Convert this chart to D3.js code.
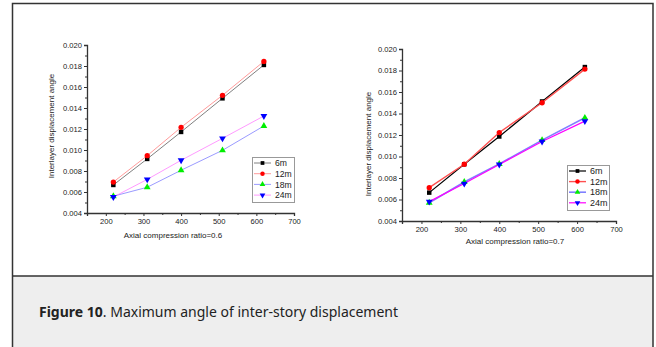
<!DOCTYPE html>
<html>
<head>
<meta charset="utf-8">
<script src="https://cdn.jsdelivr.net/npm/d3@7"></script>
<style>
  body { margin: 0; background: #fff; }
  svg { display: block; }
</style>
</head>
<body>
<div id="fig"></div>
<script>
// x positions shared by every series
var xs = [220, 310, 400, 510, 620]
var xTicks = [200, 300, 400, 500, 600, 700]
var yTicks = [0.004, 0.006, 0.008, 0.010, 0.012, 0.014, 0.016, 0.018, 0.020]
var seriesNames = ['6m', '12m', '18m', '24m']

// axial compression ratio 0.6
var r06_6m = [0.00667, 0.00915, 0.01172, 0.01492, 0.01810]
var r06_12m = [0.00695, 0.00946, 0.01216, 0.01521, 0.01844]
var r06_18m = [0.00560, 0.00645, 0.00807, 0.00997, 0.01229]
var r06_24m = [0.00552, 0.00720, 0.00902, 0.01111, 0.01324]

// axial compression ratio 0.7
var r07_6m = [0.00664, 0.00928, 0.01186, 0.01512, 0.01832]
var r07_12m = [0.00710, 0.00928, 0.01223, 0.01500, 0.01813]
var r07_18m = [0.00570, 0.00763, 0.00931, 0.01152, 0.01360]
var r07_24m = [0.00580, 0.00748, 0.00925, 0.01139, 0.01329]

var W = 656, H = 347

var svg = d3.select('#fig').append('svg')
  .attr('width', W)
  .attr('height', H)

// outer frame + caption band
svg.append('rect')
  .attr('x', 12.5).attr('y', 276)
  .attr('width', 640.5).attr('height', 80)
  .attr('fill', '#eeeeee')
svg.append('path')
  .attr('d', 'M12.5,350V3.5H653V350M12.5,276H653')
  .attr('fill', 'none')
  .attr('stroke', '#333')
  .attr('stroke-width', 1.5)

var cap = svg.append('text')
  .attr('x', 39).attr('y', 317)
  .attr('font-family', '"Noto Sans", "Open Sans", sans-serif')
  .attr('font-size', 14)
  .attr('fill', '#222')
cap.append('tspan').attr('font-weight', 'bold').text('Figure 10')
cap.append('tspan').text('. Maximum angle of inter-story displacement')

// series looks, one per chart
var looksA = [
  { line: '#606060', mark: '#000', sym: d3.symbolSquare, rot: 0, lw: 0.8 },
  { line: '#ff8080', mark: '#ff0000', sym: d3.symbolCircle, rot: 0, lw: 0.8 },
  { line: '#8080ff', mark: '#00ee00', sym: d3.symbolTriangle, rot: 0, lw: 0.8 },
  { line: '#ff80ff', mark: '#0000ff', sym: d3.symbolTriangle, rot: 180, lw: 0.8 }
]
var looksB = [
  { line: '#000', mark: '#000', sym: d3.symbolSquare, rot: 0, lw: 1.2 },
  { line: '#ff5050', mark: '#ff0000', sym: d3.symbolCircle, rot: 0, lw: 1.4 },
  { line: '#8080ff', mark: '#00ee00', sym: d3.symbolTriangle, rot: 0, lw: 1.6 },
  { line: '#ff00ff', mark: '#0000ff', sym: d3.symbolTriangle, rot: 180, lw: 1.2 }
]

drawChart({
  data: [r06_6m, r06_12m, r06_18m, r06_24m],
  looks: looksA,
  xr: [87, 294], yr: [213, 45],
  xLabel: 'Axial compression ratio=0.6', xlx: 173, xly: 238,
  ylx: 54, yly: 126,
  leg: { x: 252, y: 157, w: 42, h: 45, row: 10.7, fs: 8.6 }
})

drawChart({
  data: [r07_6m, r07_12m, r07_18m, r07_24m],
  looks: looksB,
  xr: [402, 616], yr: [221, 49],
  xLabel: 'Axial compression ratio=0.7', xlx: 515, xly: 243.5,
  ylx: 371, yly: 144,
  leg: { x: 567, y: 165, w: 42, h: 45, row: 10.6, fs: 9 }
})

function drawChart(c) {
  var x = d3.scaleLinear().domain([150, 700]).range(c.xr)
  var y = d3.scaleLinear().domain([0.004, 0.020]).range(c.yr)
  var g = svg.append('g')
  var font = '"Liberation Sans", Arial, sans-serif'

  var xMinor = xTicks.slice(0, -1).map(function (v) { return v + 50 })
  xMinor.unshift(150)
  var yMinor = yTicks.slice(0, -1).map(function (v) { return v + 0.001 })

  var xa = g.append('g').attr('transform', 'translate(0,' + c.yr[0] + ')')
    .call(d3.axisBottom(x).tickValues(xTicks).tickSize(3).tickPadding(3).tickFormat(d3.format('d')))
  g.append('g').attr('transform', 'translate(0,' + c.yr[0] + ')')
    .call(d3.axisBottom(x).tickValues(xMinor).tickSize(2).tickFormat(''))
    .select('.domain').remove()

  var ya = g.append('g').attr('transform', 'translate(' + c.xr[0] + ',0)')
    .call(d3.axisLeft(y).tickValues(yTicks).tickSize(3).tickPadding(2).tickFormat(d3.format('.3f')))
  g.append('g').attr('transform', 'translate(' + c.xr[0] + ',0)')
    .call(d3.axisLeft(y).tickValues(yMinor).tickSize(2).tickFormat(''))
    .select('.domain').remove()

  g.selectAll('.domain').attr('stroke', '#333').attr('stroke-width', 1.3)
  g.selectAll('.tick line').attr('stroke', '#333')
  g.selectAll('.tick text').attr('font-family', font).attr('font-size', 7.6).attr('fill', '#222')

  g.append('text')
    .attr('x', c.xlx).attr('y', c.xly)
    .attr('text-anchor', 'middle')
    .attr('font-family', font).attr('font-size', 8)
    .attr('fill', '#222')
    .text(c.xLabel)
  g.append('text')
    .attr('transform', 'translate(' + c.ylx + ',' + c.yly + ') rotate(-90)')
    .attr('text-anchor', 'middle')
    .attr('font-family', font).attr('font-size', 8)
    .attr('fill', '#222')
    .text('Interlayer displacement angle')

  var line = d3.line()
    .x(function (d, i) { return x(xs[i]) })
    .y(function (d) { return y(d) })

  c.data.forEach(function (vals, k) {
    var lk = c.looks[k]
    g.append('path')
      .datum(vals)
      .attr('d', line)
      .attr('fill', 'none')
      .attr('stroke', lk.line)
      .attr('stroke-width', lk.lw)
    g.selectAll('.m' + k)
      .data(vals)
      .enter().append('path')
      .attr('class', 'm' + k)
      .attr('d', d3.symbol().type(lk.sym).size(lk.sym === d3.symbolCircle ? 22 : 20))
      .attr('transform', function (d, i) {
        return 'translate(' + x(xs[i]) + ',' + y(d) + ') rotate(' + lk.rot + ')'
      })
      .attr('fill', lk.mark)
  })

  // legend
  var L = c.leg
  var lg = g.append('g')
  lg.append('rect')
    .attr('x', L.x + 0.5).attr('y', L.y + 0.5)
    .attr('width', L.w).attr('height', L.h)
    .attr('fill', '#fff')
    .attr('stroke', '#999')
  seriesNames.forEach(function (name, k) {
    var lk = c.looks[k]
    var ry = L.y + 6 + k * L.row
    lg.append('line')
      .attr('x1', L.x + 2).attr('x2', L.x + 19)
      .attr('y1', ry).attr('y2', ry)
      .attr('stroke', lk.line)
      .attr('stroke-width', lk.lw)
    lg.append('path')
      .attr('d', d3.symbol().type(lk.sym).size(lk.sym === d3.symbolCircle ? 16 : 14))
      .attr('transform', 'translate(' + (L.x + 10.5) + ',' + ry + ') rotate(' + lk.rot + ')')
      .attr('fill', lk.mark)
    lg.append('text')
      .attr('x', L.x + 23).attr('y', ry + 3.2)
      .attr('font-family', font).attr('font-size', L.fs)
      .attr('fill', '#222')
      .text(name)
  })
}
</script>
</body>
</html>
